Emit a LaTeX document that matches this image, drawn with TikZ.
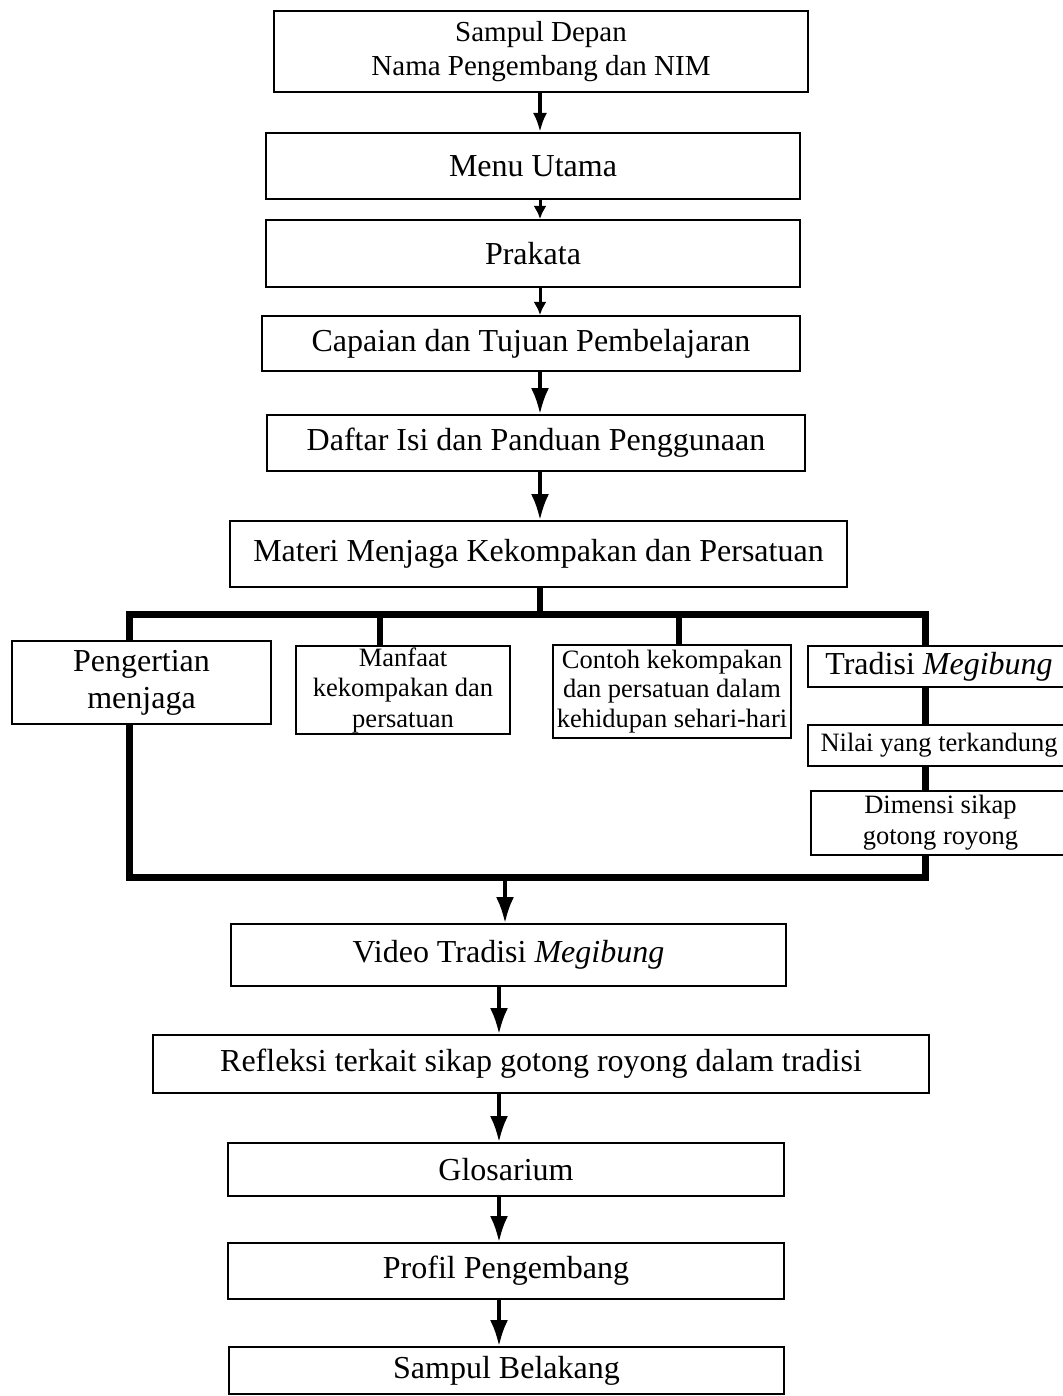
\documentclass[tikz,border=0pt]{standalone}
\usepackage{fontspec}
\setmainfont{Liberation Serif}
\usetikzlibrary{arrows.meta}

\begin{document}
\begin{tikzpicture}[x=1pt, y=-1pt,
	box/.style={draw, line width=2pt, fill=white, inner sep=0pt, align=center, font=\fontsize{32}{37}\selectfont},
	small/.style={font=\fontsize{26.5}{30.5}\selectfont},
	arr/.style={-{Latex[length=26pt, width=18pt]}, line width=3.5pt},
	arrm/.style={-{Latex[length=19pt, width=14pt]}, line width=3.5pt},
	arrs/.style={-{Latex[length=13pt, width=13pt]}, line width=3pt},
	bus/.style={line width=7pt},
	drop/.style={line width=6pt}]
	\useasboundingbox (0, 0) rectangle (1062, 1396);

	\coordinate (tl) at (129, 614);
	\coordinate (br) at (925, 877);
	\coordinate (d2) at (380, 614);
	\coordinate (d3) at (679, 614);
	\coordinate (ax) at (540, 0);
	\coordinate (bx) at (499, 0);

	\draw[bus] (tl) rectangle (br);
	\draw[drop] (d2) -- ++(0, 32);
	\draw[drop] (d3) -- ++(0, 32);

	\node[box, minimum width=534, minimum height=81, font=\fontsize{29}{34}\selectfont] (sampul) at (541, 51.5) {Sampul Depan\\Nama Pengembang dan NIM};
	\node[box, minimum width=534, minimum height=66] (menu) at (533, 166) {Menu Utama};
	\node[box, minimum width=534, minimum height=67] (prakata) at (533, 253.5) {Prakata};
	\node[box, minimum width=538, minimum height=55] (capaian) at (531, 343.5) {Capaian dan Tujuan Pembelajaran};
	\node[box, minimum width=538, minimum height=56] (daftar) at (536, 443) {Daftar Isi dan Panduan Penggunaan};
	\node[box, minimum width=617, minimum height=66] (materi) at (538.5, 554) {Materi Menjaga Kekompakan dan Persatuan};

	\node[box, minimum width=259, minimum height=83] (pengertian) at (141.5, 682.5) {Pengertian\\menjaga};
	\node[box, small, minimum width=214, minimum height=88] (manfaat) at (403, 690) {Manfaat\\kekompakan dan\\persatuan};
	\node[box, minimum width=238, minimum height=93, font=\fontsize{26.5}{29.5}\selectfont] (contoh) at (672, 691.5) {Contoh kekompakan\\dan persatuan dalam\\kehidupan sehari-hari};
	\node[box, minimum width=262, minimum height=41] (tradisi) at (939, 666.5) {Tradisi \textit{Megibung}};
	\node[box, small, minimum width=262, minimum height=41] (nilai) at (939, 745.5) {Nilai yang terkandung};
	\node[box, minimum width=259, minimum height=64, font=\fontsize{26.5}{31}\selectfont] (dimensi) at (940.5, 823) {Dimensi sikap\\gotong royong};

	\node[box, minimum width=555, minimum height=62] (video) at (508.5, 955) {Video Tradisi \textit{Megibung}};
	\node[box, minimum width=776, minimum height=58] (refleksi) at (541, 1064) {Refleksi terkait sikap gotong royong dalam tradisi};
	\node[box, minimum width=556, minimum height=53] (glosarium) at (506, 1169.5) {Glosarium};
	\node[box, minimum width=556, minimum height=56] (profil) at (506, 1271) {Profil Pengembang};
	\node[box, minimum width=555, minimum height=47] (belakang) at (506.5, 1370.5) {Sampul Belakang};

	\draw[arrm] (ax |- sampul.south) -- (ax |- menu.north);
	\draw[arrs] (ax |- menu.south) -- (ax |- prakata.north);
	\draw[arrs] (ax |- prakata.south) -- (ax |- capaian.north);
	\draw[arr] (ax |- capaian.south) -- (ax |- daftar.north);
	\draw[arr] (ax |- daftar.south) -- (ax |- materi.north);
	\draw[drop] (ax |- materi.south) -- (ax |- tl);

	\draw[arr] (505, 877) -- (505, 0 |- video.north);
	\draw[arr] (bx |- video.south) -- (bx |- refleksi.north);
	\draw[arr] (bx |- refleksi.south) -- (bx |- glosarium.north);
	\draw[arr] (bx |- glosarium.south) -- (bx |- profil.north);
	\draw[arr] (bx |- profil.south) -- (bx |- belakang.north);

\end{tikzpicture}
\end{document}
